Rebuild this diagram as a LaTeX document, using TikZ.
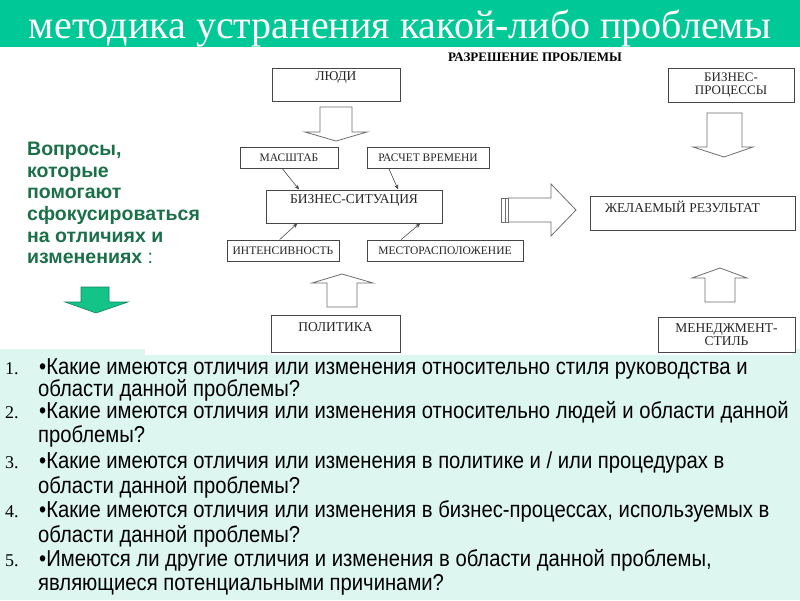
\documentclass[tikz,border=0pt]{standalone}
\usepackage{fontspec}
\setmainfont{Liberation Serif}
\newfontfamily\sansfnt{Liberation Sans}
\newfontfamily\narrowfnt[FakeStretch=0.88]{Liberation Sans}
\usetikzlibrary{arrows.meta,calc}
\definecolor{hdrgreen}{RGB}{0,200,150}
\definecolor{mint}{RGB}{221,246,239}
\definecolor{qgreen}{RGB}{28,112,72}
\definecolor{boxline}{RGB}{70,70,70}
\definecolor{arrline}{RGB}{110,110,110}
\definecolor{agreen}{RGB}{20,195,135}
\definecolor{agreendark}{RGB}{20,130,90}
\begin{document}
\begin{tikzpicture}[x=1pt,y=-1pt,
 dbox/.style={draw=boxline, line width=0.8pt, fill=white, inner sep=0pt, text=black!85, font=\fontsize{11.5}{12}\selectfont},
 blk/.style={draw=arrline, line width=0.8pt, fill=white, line join=miter},
 lbl/.style={inner sep=0pt, text=black!85, font=\fontsize{13.5}{13.5}\selectfont},
 link/.style={draw=black!70, line width=0.6pt, -{Stealth[length=5pt,width=4pt]}},
 qline/.style={inner sep=0pt, anchor=base west, font=\narrowfnt\fontsize{23}{24}\selectfont},
 qnum/.style={inner sep=0pt, anchor=base west, font=\fontsize{18}{20}\selectfont}]
\useasboundingbox (0,0) rectangle (800,600);
\fill[white] (0,0) rectangle (800,600);
\fill[mint] (0,349) rectangle (800,600);
\fill[white] (145,47) rectangle (792,355);
\fill[hdrgreen] (0,0) rectangle (800,47);
\node[anchor=base, text=white, inner sep=0pt, font=\fontsize{40}{40}\selectfont] (title) at (400,38) {методика устранения какой-либо проблемы};

\node[inner sep=0pt, font=\bfseries\fontsize{13}{13}\selectfont] (head) at (535,57) {РАЗРЕШЕНИЕ ПРОБЛЕМЫ};

% boxes
\node[dbox, minimum width=128pt, minimum height=33pt] (people) at (336,84.5) {};
\node[lbl] (peopleT) at ($(people.north)+(0,10)$) {ЛЮДИ};
\node[dbox, minimum width=126pt, minimum height=34pt, align=center, font=\fontsize{13}{13}\selectfont] (bp) at (731,85) {БИЗНЕС-\\ПРОЦЕССЫ};
\node[dbox, minimum width=98pt, minimum height=21pt] (masshtab) at (289,157.5) {МАСШТАБ};
\node[dbox, minimum width=122pt, minimum height=21pt] (raschet) at (428,157.5) {РАСЧЕТ ВРЕМЕНИ};
\node[dbox, minimum width=176pt, minimum height=33pt] (situation) at (354,206.5) {};
\node[lbl] (situationT) at ($(situation.north)+(0,11)$) {БИЗНЕС-СИТУАЦИЯ};
\node[dbox, minimum width=112pt, minimum height=21pt] (intens) at (283,250.5) {ИНТЕНСИВНОСТЬ};
\node[dbox, minimum width=156pt, minimum height=21pt] (mesto) at (445,250.5) {МЕСТОРАСПОЛОЖЕНИЕ};
\node[dbox, minimum width=129pt, minimum height=37pt] (politika) at (335.5,333.5) {};
\node[lbl] (politikaT) at ($(politika.north)+(0,12)$) {ПОЛИТИКА};
\node[dbox, minimum width=205pt, minimum height=34pt] (result) at (692.5,213) {};
\node[lbl] (resultT) at ($(result.north)+(-10,11)$) {ЖЕЛАЕМЫЙ РЕЗУЛЬТАТ};
\node[dbox, minimum width=137pt, minimum height=35pt, align=center, font=\fontsize{13.5}{13}\selectfont] (manager) at (726.5,334.5) {МЕНЕДЖМЕНТ-\\СТИЛЬ};

% small connectors
\draw[link] ($(masshtab.south west)!0.43!(masshtab.south east)$) -- ($(situation.north west)!0.19!(situation.north east)$);
\draw[link] ($(raschet.south west)!0.18!(raschet.south east)$) -- ($(situation.north west)!0.75!(situation.north east)$);
\draw[link] ($(intens.north west)!0.47!(intens.north east)$) -- ($(situation.south west)!0.18!(situation.south east)$);
\draw[link] ($(mesto.north west)!0.22!(mesto.north east)$) -- ($(situation.south west)!0.875!(situation.south east)$);

% block arrows
\draw[blk] (320,107) -- (352,107) -- (352,132) -- (367,132) -- (336,141) -- (305,132) -- (320,132) -- cycle;
\draw[blk] (327,307) -- (357,307) -- (357,283) -- (373,283) -- (342,274) -- (312,283) -- (327,283) -- cycle;
\draw[blk] (707,113) -- (742,113) -- (742,147) -- (753,147) -- (724,157) -- (693,147) -- (707,147) -- cycle;
\draw[blk] (705,302) -- (735,302) -- (735,278) -- (747,278) -- (720,268) -- (692,278) -- (705,278) -- cycle;
\draw[blk] (508,198) -- (551,198) -- (551,184) -- (576,210) -- (551,236) -- (551,222) -- (508,222) -- cycle;
\draw[blk] (501,198) rectangle (505,222);
\draw[blk] (505,198) rectangle (508,222);

% left text
\node[anchor=north west, inner sep=0pt, align=left, text=qgreen, font=\sansfnt\bfseries\fontsize{19.5}{21.6}\selectfont] (questions) at (27,142) {Вопросы,\\которые\\помогают\\сфокусироваться\\на отличиях и\\изменениях \textmd{:}};
\draw[fill=agreen, draw=agreendark, line width=0.6pt, line join=miter] (81,287) -- (109,287) -- (109,302) -- (128,302) -- (96,313) -- (65,302) -- (81,302) -- cycle;

% list
\node[qnum] (n1) at (5,374) {1.};
\node[qline] (q1a) at (39,374) {•Какие имеются отличия или изменения относительно стиля руководства и};
\node[qline] (q1b) at (38,396) {области данной проблемы?};
\node[qnum] (n2) at (5,418) {2.};
\node[qline] (q2a) at (39,418) {•Какие имеются отличия или изменения относительно людей и области данной};
\node[qline] (q2b) at (38,442) {проблемы?};
\node[qnum] (n3) at (5,468) {3.};
\node[qline] (q3a) at (39,468) {•Какие имеются отличия или изменения в политике и / или процедурах в};
\node[qline] (q3b) at (38,493) {области данной проблемы?};
\node[qnum] (n4) at (5,517) {4.};
\node[qline] (q4a) at (39,517) {•Какие имеются отличия или изменения в бизнес-процессах, используемых в};
\node[qline] (q4b) at (38,542) {области данной проблемы?};
\node[qnum] (n5) at (5,566) {5.};
\node[qline] (q5a) at (39,566) {•Имеются ли другие отличия и изменения в области данной проблемы,};
\node[qline] (q5b) at (38,590) {являющиеся потенциальными причинами?};
\end{tikzpicture}
\end{document}
